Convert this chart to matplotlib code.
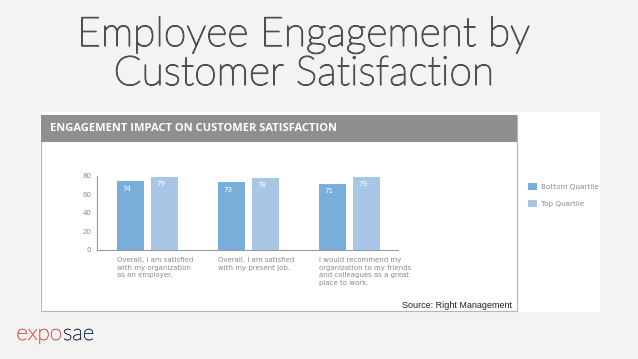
import matplotlib.pyplot as plt
from matplotlib.patches import Rectangle
import matplotlib.patheffects as pe
import numpy as np

# data
questions = ["Overall, I am satisfied\nwith my organization\nas an employer.",
             "Overall, I am satisfied\nwith my present job.",
             "I would recommend my\norganization to my friends\nand colleagues as a great\nplace to work."]
bottom_quartile = [74, 73, 71]
top_quartile = [79, 78, 79]
series_names = ["Bottom Quartile", "Top Quartile"]
yticks = [0, 20, 40, 60, 80]

bg = "#f3f3f1"
dark_blue = "#79aedb"
light_blue = "#a8c7e6"
gray_text = "#8a8a8a"

W, H = 638, 359
fig = plt.figure(figsize=(W / 100, H / 100), dpi=100, facecolor=bg)


def fx(px):
    return px / W


def fy(py):
    return 1 - py / H


def thin(color, lw):
    return [pe.withStroke(linewidth=lw, foreground=color)]


# title
title_col = "#4e4e56"
fig.text(fx(304), fy(35), "Employee Engagement by", ha="center", va="center",
         fontsize=29.4, family="Lato", fontweight="light", color=title_col,
         path_effects=thin(title_col, 0.9))
fig.text(fx(304), fy(74), "Customer Satisfaction", ha="center", va="center",
         fontsize=29.4, family="Lato", fontweight="light", color=title_col,
         path_effects=thin(title_col, 0.9))

# white panel + header bar
fig.add_artist(Rectangle((fx(40), fy(312)), fx(600) - fx(40), fy(112) - fy(312),
                         transform=fig.transFigure, facecolor="white", edgecolor="none", zorder=-3))
fig.add_artist(Rectangle((fx(41), fy(311)), fx(517) - fx(41), fy(115) - fy(311),
                         transform=fig.transFigure, facecolor="none", edgecolor="#b5b5b5", lw=0.8, zorder=-2))
fig.add_artist(Rectangle((fx(41), fy(142)), fx(517) - fx(41), fy(115) - fy(142),
                         transform=fig.transFigure, facecolor="#8f8f8f", edgecolor="none", zorder=-2))
fig.text(fx(50), fy(128.5), "ENGAGEMENT IMPACT ON CUSTOMER SATISFACTION", ha="left", va="center",
         fontsize=8.0, fontweight="bold", family="Open Sans", color="white")

# chart
ax = fig.add_axes([fx(97), fy(250), fx(398) - fx(97), fy(175.7) - fy(250)])
ax.set_facecolor("none")
x = np.arange(len(questions))
w = 0.265
off = 0.166
b1 = ax.bar(x - off, bottom_quartile, w, color=dark_blue, label=series_names[0])
b2 = ax.bar(x + off, top_quartile, w, color=light_blue, label=series_names[1])
for bars, vals in [(b1, bottom_quartile), (b2, top_quartile)]:
    for r, v in zip(bars, vals):
        ax.text(r.get_x() + 0.05, v - 8, str(v), ha="left", va="center",
                fontsize=5, color="white")
for xi, q in zip(x, questions):
    ax.text(xi - off - w / 2, -7.5, q, ha="left", va="top", fontsize=5,
            color=gray_text, linespacing=1.35, clip_on=False)
ax.set_xlim(-0.5, 2.48)
ax.set_ylim(0, 80)
ax.set_yticks(yticks)
ax.set_xticks([])
ax.tick_params(axis="y", length=0, labelsize=5, labelcolor=gray_text, pad=4)
for s in ["top", "right"]:
    ax.spines[s].set_visible(False)
for s in ["left", "bottom"]:
    ax.spines[s].set_color("#9a9a9a")
    ax.spines[s].set_linewidth(0.8)

fig.legend(handles=[b1, b2], loc="upper left", bbox_to_anchor=(fx(521), fy(176)),
           frameon=False, fontsize=5.2, labelcolor=gray_text, handlelength=1.25,
           handleheight=1.25, labelspacing=1.3, handletextpad=0.6)

fig.text(fx(512), fy(306), "Source: Right Management", ha="right", va="center",
         fontsize=6.5, family="Liberation Sans", color="#222222")

# logo
fig.text(fx(62), fy(334), "expo", ha="right", va="center", fontsize=16,
         family="Lato", fontweight="light", color="#dc5a58",
         path_effects=thin("#dc5a58", 0.35))
fig.text(fx(63), fy(334), "sae", ha="left", va="center", fontsize=16,
         family="Lato", fontweight="light", color="#2a3550",
         path_effects=thin("#2a3550", 0.35))

fig.savefig("out.png", dpi=100, facecolor=bg)
